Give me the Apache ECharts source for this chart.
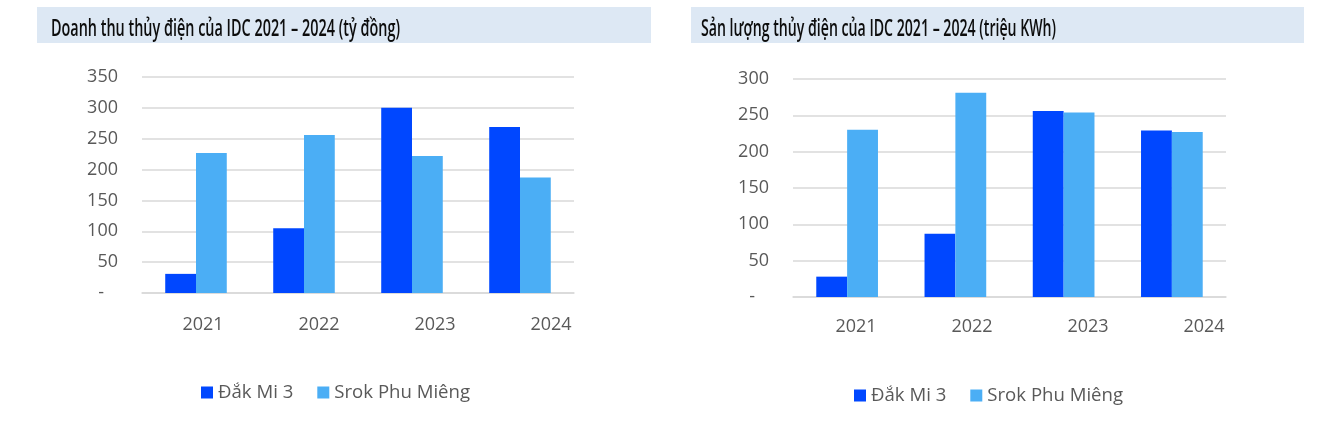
<!DOCTYPE html>
<html>
<head>
<meta charset="utf-8">
<script src="https://cdn.jsdelivr.net/npm/echarts@6/dist/echarts.min.js"></script>
<style>
  html, body { margin: 0; padding: 0; background: #fff; }
  #main { width: 1336px; height: 425px; }
</style>
</head>
<body>
<div id="main"></div>
<script>
var years = ['2021', '2022', '2023', '2024'];
var seriesNames = ['Đắk Mi 3', 'Srok Phu Miêng'];

// Doanh thu (tỷ đồng)
var revenueDakMi3 = [31, 105, 300, 269];
var revenueSrok = [227, 256, 222, 187];

// Sản lượng (triệu KWh)
var outputDakMi3 = [28, 87, 256, 229];
var outputSrok = [230, 281, 254, 227];

var titleLeft = 'Doanh thu thủy điện của IDC 2021 – 2024 (tỷ đồng)';
var titleRight = 'Sản lượng thủy điện của IDC 2021 – 2024 (triệu KWh)';

var colors = ['#0047ff', '#4baef5'];
var labelColor = '#595959';
var gridColor = '#d9d9d9';
var font = "'Open Sans', sans-serif";
var titleFont = "600 24px 'Open Sans', sans-serif";

// the titles use a condensed face in the original; squeeze a normal one to the same width
var ctx = document.createElement('canvas').getContext('2d');
ctx.font = titleFont;
function squeeze(text, target) {
    return target / ctx.measureText(text).width;
}

function yLabel(v) {
    return v === 0 ? '-   ' : v;
}

function valueAxis(gridIndex, max) {
    return {
        type: 'value',
        gridIndex: gridIndex,
        min: 0,
        max: max,
        interval: 50,
        axisLine: { show: false },
        axisTick: { show: false },
        axisLabel: { color: labelColor, fontSize: 18, fontFamily: font, margin: 24, formatter: yLabel },
        splitLine: { lineStyle: { color: gridColor, width: 1.5 } }
    };
}

function barAxis(gridIndex) {
    return {
        type: 'category',
        gridIndex: gridIndex,
        data: years,
        axisLine: { lineStyle: { color: gridColor, width: 1.5 } },
        axisTick: { show: false },
        axisLabel: { show: false }
    };
}

// the year labels sit on a slightly wider spacing than the bars
function labelAxis(gridIndex, margin) {
    return {
        type: 'category',
        gridIndex: gridIndex,
        data: years,
        axisLine: { show: false },
        axisTick: { show: false },
        axisLabel: { color: labelColor, fontSize: 18, fontFamily: font, margin: margin }
    };
}

function hiddenAxis(gridIndex) {
    return { type: 'value', gridIndex: gridIndex, show: false, min: 0, max: 1 };
}

function bars(name, data, idx, color) {
    return {
        name: name,
        type: 'bar',
        xAxisIndex: idx,
        yAxisIndex: idx,
        data: data,
        barGap: '0%',
        barCategoryGap: '43%',
        itemStyle: { color: color }
    };
}

var myChart = echarts.init(document.getElementById('main'), null, { renderer: 'canvas' });
var option = {
    backgroundColor: '#fff',
    animation: false,
    color: colors,
    graphic: [
        { type: 'rect', shape: { x: 37, y: 7, width: 614, height: 36 }, style: { fill: '#dde8f4' }, z: -10 },
        { type: 'rect', shape: { x: 691, y: 7, width: 613, height: 36 }, style: { fill: '#dde8f4' }, z: -10 },
        {
            type: 'text', x: 51, y: 29, scaleX: squeeze(titleLeft, 349),
            style: { text: titleLeft, font: titleFont, fill: '#0d0d0d', verticalAlign: 'middle' }
        },
        {
            type: 'text', x: 701, y: 29, scaleX: squeeze(titleRight, 355),
            style: { text: titleRight, font: titleFont, fill: '#0d0d0d', verticalAlign: 'middle' }
        }
    ],
    legend: [
        {
            data: seriesNames, left: 201, top: 383, padding: 0, icon: 'rect', itemWidth: 12, itemHeight: 12,
            itemGap: 24, itemTextGap: 5, textStyle: { color: labelColor, fontSize: 18.6, fontFamily: font }
        },
        {
            data: seriesNames, left: 854, top: 386, padding: 0, icon: 'rect', itemWidth: 12, itemHeight: 12,
            itemGap: 24, itemTextGap: 5, textStyle: { color: labelColor, fontSize: 18.6, fontFamily: font }
        }
    ],
    grid: [
        { left: 142, top: 77, width: 432, height: 216 },
        { left: 145, top: 77, width: 464, height: 216 },
        { left: 793, top: 79, width: 433, height: 218 },
        { left: 798, top: 79, width: 464, height: 218 }
    ],
    xAxis: [barAxis(0), labelAxis(1, 23), barAxis(2), labelAxis(3, 21)],
    yAxis: [valueAxis(0, 350), hiddenAxis(1), valueAxis(2, 300), hiddenAxis(3)],
    series: [
        bars(seriesNames[0], revenueDakMi3, 0, colors[0]),
        bars(seriesNames[1], revenueSrok, 0, colors[1]),
        bars(seriesNames[0], outputDakMi3, 2, colors[0]),
        bars(seriesNames[1], outputSrok, 2, colors[1])
    ]
};

myChart.setOption(option);
</script>
</body>
</html>
